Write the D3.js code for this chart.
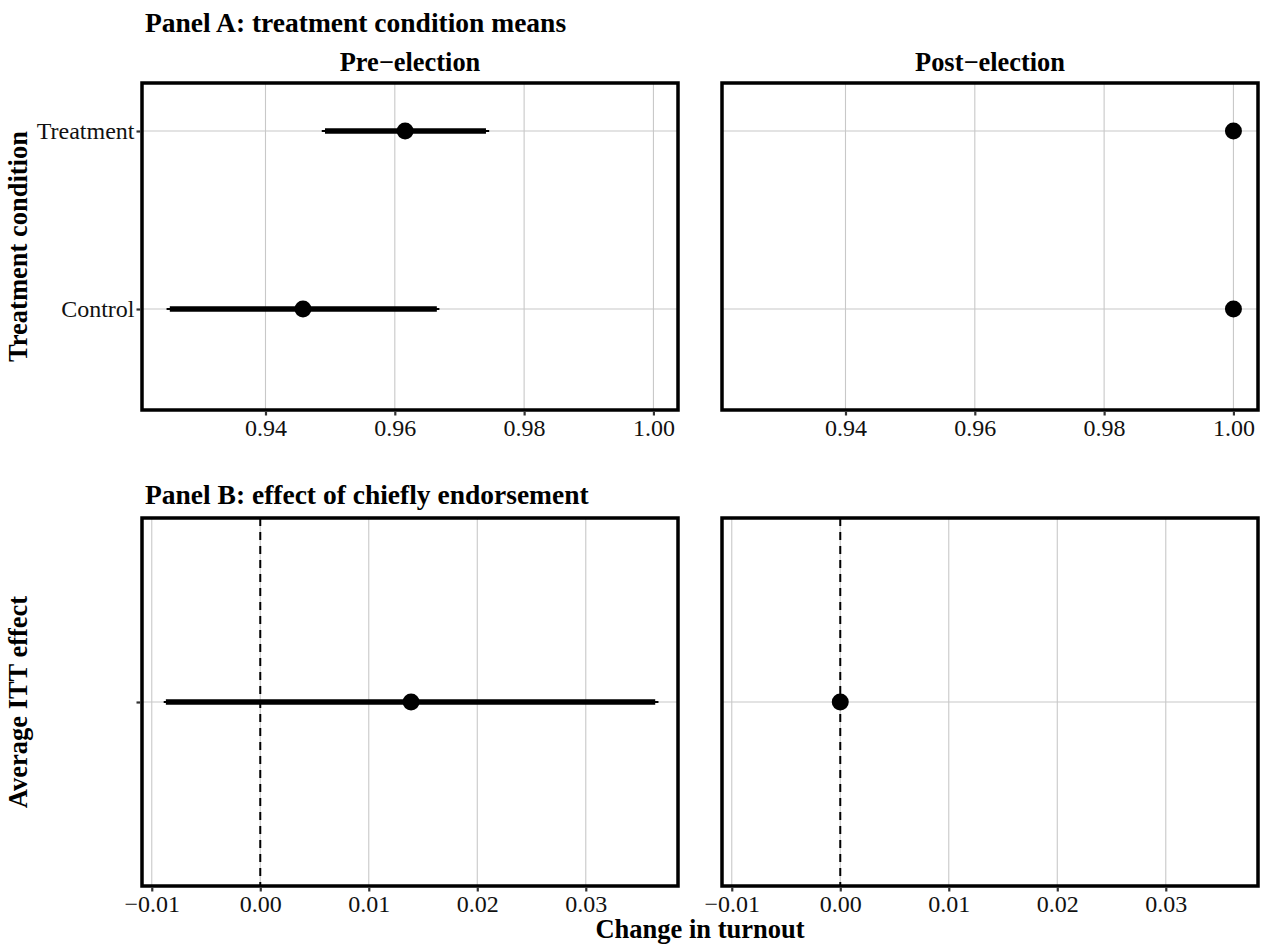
<!DOCTYPE html>
<html><head><meta charset="utf-8">
<script src="https://cdn.jsdelivr.net/npm/d3@7"></script>
<style>body{margin:0;background:#fff}</style>
</head><body><svg id="c" width="1264" height="945"></svg>
<script>
// ---- data ----
const conditions = ["Treatment", "Control"];
const periods = ["Pre\u2212election", "Post\u2212election"];
// Panel A means and intervals (pre, post)
const preMean = [0.9616, 0.9458];
const preLo95 = [0.9487, 0.9247];
const preHi95 = [0.9746, 0.9669];
const preLo90 = [0.9492, 0.9252];
const preHi90 = [0.9741, 0.9665];
const postMean = [1.0, 1.0];
const postLo95 = [1.0, 1.0];
const postHi95 = [1.0, 1.0];
const postLo90 = [1.0, 1.0];
const postHi90 = [1.0, 1.0];
// Panel B effects (pre, post)
const effMean = [0.0139, 0.0];
const effLo95 = [-0.0089, 0.0];
const effHi95 = [0.0367, 0.0];
const effLo90 = [-0.0087, 0.0];
const effHi90 = [0.0364, 0.0];
const ticksA = [0.94, 0.96, 0.98, 1.00];
const ticksB = [-0.01, 0.00, 0.01, 0.02, 0.03];
const tickLabelsA = ["0.94", "0.96", "0.98", "1.00"];
const tickLabelsB = ["\u22120.01", "0.00", "0.01", "0.02", "0.03"];

const svg = d3.select("#c");
const FONT = "'Liberation Serif', 'Times New Roman', serif";
const TICK_FS = 24;
const panelX = [[142, 678], [722, 1258]];
const A = {top: 83, bottom: 410};
const B = {top: 518, bottom: 886};

function panel(x0, x1, top, bottom, xDomain, ticks, tickLabels, yScale, yTicks, yLabels, drawYAxis, rows, zeroLine) {
  const x = d3.scaleLinear().domain(xDomain).range([x0, x1]);
  const g = svg.append("g");
  // grid
  g.selectAll(".gx").data(ticks).join("line")
    .attr("x1", d => x(d)).attr("x2", d => x(d))
    .attr("y1", top).attr("y2", bottom)
    .attr("stroke", "#c8c8c8").attr("stroke-width", 1.1);
  g.selectAll(".gy").data(yTicks).join("line")
    .attr("x1", x0).attr("x2", x1)
    .attr("y1", d => yScale(d)).attr("y2", d => yScale(d))
    .attr("stroke", "#c8c8c8").attr("stroke-width", 1.1);
  if (zeroLine) {
    g.append("line").attr("x1", x(0)).attr("x2", x(0)).attr("y1", top).attr("y2", bottom)
      .attr("stroke", "#000").attr("stroke-width", 2).attr("stroke-dasharray", "8,6");
  }
  // intervals
  rows.forEach(r => {
    g.append("line").attr("x1", x(r.lo95)).attr("x2", x(r.hi95))
      .attr("y1", yScale(r.y)).attr("y2", yScale(r.y))
      .attr("stroke", "#000").attr("stroke-width", 2.2);
    g.append("line").attr("x1", x(r.lo90)).attr("x2", x(r.hi90))
      .attr("y1", yScale(r.y)).attr("y2", yScale(r.y))
      .attr("stroke", "#000").attr("stroke-width", 5.5);
    g.append("circle").attr("cx", x(r.m)).attr("cy", yScale(r.y)).attr("r", 8.5).attr("fill", "#000");
  });
  // border
  g.append("rect").attr("x", x0).attr("y", top).attr("width", x1 - x0).attr("height", bottom - top)
    .attr("fill", "none").attr("stroke", "#000").attr("stroke-width", 3.5);
  // x axis ticks
  const ax = d3.axisBottom(x).tickValues(ticks).tickSize(4).tickPadding(3)
    .tickFormat((d, i) => tickLabels[i]);
  const axg = g.append("g").attr("transform", `translate(0,${bottom + 1.5})`).call(ax);
  axg.select(".domain").remove();
  axg.selectAll(".tick line").attr("stroke", "#333").attr("stroke-width", 2.2);
  axg.selectAll(".tick text").attr("fill", "#111").attr("font-family", FONT).attr("font-size", TICK_FS);
  if (drawYAxis) {
    const ay = d3.axisLeft(yScale).tickValues(yTicks).tickSize(4).tickPadding(2)
      .tickFormat((d, i) => yLabels[i]);
    const ayg = g.append("g").attr("transform", `translate(${x0 - 1.5},0)`).call(ay);
    ayg.select(".domain").remove();
    ayg.selectAll(".tick line").attr("stroke", "#333").attr("stroke-width", 2.2);
    ayg.selectAll(".tick text").attr("fill", "#111").attr("font-family", FONT).attr("font-size", TICK_FS);
  }
  return x;
}

// Panel A
const yA = d3.scaleLinear().domain([0.4326, 2.2697]).range([A.bottom, A.top]);
const yIdxA = conditions.map((c, i) => conditions.length - i); // Treatment=2, Control=1
const domA = [0.9209, 1.0038];
const rowsPre = conditions.map((c, i) => ({y: yIdxA[i], m: preMean[i], lo95: preLo95[i], hi95: preHi95[i], lo90: preLo90[i], hi90: preHi90[i]}));
const rowsPost = conditions.map((c, i) => ({y: yIdxA[i], m: postMean[i], lo95: postLo95[i], hi95: postHi95[i], lo90: postLo90[i], hi90: postHi90[i]}));
panel(panelX[0][0], panelX[0][1], A.top, A.bottom, domA, ticksA, tickLabelsA, yA, yIdxA, conditions, true, rowsPre, false);
panel(panelX[1][0], panelX[1][1], A.top, A.bottom, domA, ticksA, tickLabelsA, yA, yIdxA, conditions, false, rowsPost, false);

// Panel B
const yB = d3.scaleLinear().domain([0.5, 1.5]).range([B.bottom, B.top]);
const domB = [-0.0109, 0.0385];
panel(panelX[0][0], panelX[0][1], B.top, B.bottom, domB, ticksB, tickLabelsB, yB, [1], [""], true,
  [{y: 1, m: effMean[0], lo95: effLo95[0], hi95: effHi95[0], lo90: effLo90[0], hi90: effHi90[0]}], true);
panel(panelX[1][0], panelX[1][1], B.top, B.bottom, domB, ticksB, tickLabelsB, yB, [1], [""], false,
  [{y: 1, m: effMean[1], lo95: effLo95[1], hi95: effHi95[1], lo90: effLo90[1], hi90: effHi90[1]}], true);

// titles
function txt(x, y, s, size, anchor, rot) {
  const t = svg.append("text").attr("x", x).attr("y", y).text(s)
    .attr("font-family", FONT).attr("font-weight", "bold").attr("font-size", size)
    .attr("text-anchor", anchor).attr("fill", "#000");
  if (rot) t.attr("transform", `rotate(-90,${x},${y})`);
  return t;
}
txt(145, 32, "Panel A: treatment condition means", 27.5, "start");
txt((panelX[0][0] + panelX[0][1]) / 2, 71, periods[0], 26.4, "middle");
txt((panelX[1][0] + panelX[1][1]) / 2, 71, periods[1], 26.4, "middle");
txt(145, 504, "Panel B: effect of chiefly endorsement", 27.5, "start");
txt(27, (A.top + A.bottom) / 2, "Treatment condition", 26.5, "middle", true);
txt(27, (B.top + B.bottom) / 2, "Average ITT effect", 26.5, "middle", true);
txt((panelX[0][0] + panelX[1][1]) / 2, 938, "Change in turnout", 26.5, "middle");
</script></body></html>
